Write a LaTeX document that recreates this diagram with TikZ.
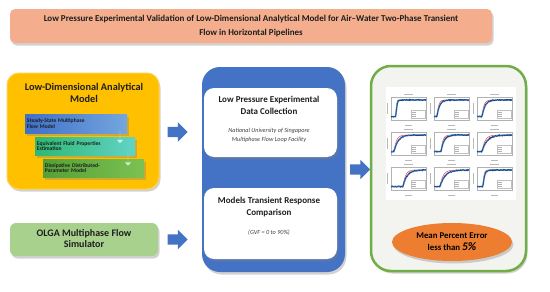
\documentclass[tikz,border=0pt]{standalone}
\usepackage{fontspec}
\setmainfont{Carlito}
\usetikzlibrary{shapes.geometric, shapes.arrows, positioning, shadows}

\definecolor{titlefill}{HTML}{F4AE8E}
\definecolor{goldfill}{HTML}{FFC000}
\definecolor{goldedge}{HTML}{FFD24D}
\definecolor{olgafill}{HTML}{A9D18E}
\definecolor{mainblue}{HTML}{4472C4}
\definecolor{maingreen}{HTML}{70AD47}
\definecolor{mainorange}{HTML}{ED7D31}
\definecolor{panelgray}{HTML}{F3F4F0}
\definecolor{textdark}{HTML}{1E1E1E}
\definecolor{plotblue}{HTML}{1F3F7A}
\definecolor{plotlight}{HTML}{5B9BD5}
\definecolor{stepblueA}{HTML}{3F70C8}
\definecolor{stepblueB}{HTML}{74A6DE}
\definecolor{steptealA}{HTML}{2EB872}
\definecolor{steptealB}{HTML}{62D3C6}
\definecolor{stepgreenA}{HTML}{55A035}
\definecolor{stepgreenB}{HTML}{7CC152}

\begin{document}
\begin{tikzpicture}[
    x=1pt, y=-1pt,
    softshadow/.style={drop shadow={opacity=0.35, shadow xshift=1.5pt, shadow yshift=-2.5pt}},
    panel/.style={rounded corners=14pt, softshadow, inner sep=0pt},
    titlebox/.style={rounded corners=5pt, fill=titlefill, softshadow, minimum width=482pt, minimum height=34pt, align=center, text=textdark, font=\fontsize{9}{13.5}\selectfont\bfseries},
    headtext/.style={align=center, text=textdark, inner sep=0pt, font=\fontsize{10.3}{12}\selectfont\bfseries},
    boxtitle/.style={align=center, text=textdark, inner sep=0pt, font=\fontsize{9}{12}\selectfont\bfseries},
    boxnote/.style={align=center, text=black!75, inner sep=0pt, font=\fontsize{6.2}{9}\selectfont\itshape},
    stepbox/.style={align=left, text=textdark, inner xsep=2pt, inner ysep=0pt, font=\fontsize{5.6}{5.8}\selectfont\bfseries, softshadow},
    blockarrow/.style={single arrow, fill=mainblue, draw=none, inner xsep=0pt, inner ysep=5pt, single arrow head extend=4.5pt, minimum height=20pt},
    downarrow/.style={single arrow, fill=white, fill opacity=0.7, draw=none, inner xsep=0pt, inner ysep=3.5pt, single arrow head extend=3pt, minimum height=12pt, shape border rotate=270},
    axesframe/.style={draw=gray!60, line width=0.3pt},
    plotlabel/.style={draw=gray!55, line width=0.6pt},
    legendbox/.style={draw=gray!50, fill=white, line width=0.3pt},
    legendline/.style={draw=gray!60, line width=0.4pt},
    bluecurve/.style={draw=plotlight, line width=1.6pt},
    navycurve/.style={draw=plotblue, line width=0.6pt},
    redcurve/.style={draw=red!75, line width=0.5pt}
]
    \useasboundingbox (0,0) rectangle (550,292);
    \fill[white] (0,0) rectangle (550,292);

    % Title
    \node[titlebox] (title) at (251,26) {Low Pressure Experimental Validation of Low-Dimensional Analytical Model for Air--Water Two-Phase Transient\\Flow in Horizontal Pipelines};

    % Analytical model
    \node[panel, rounded corners=12pt, fill=goldfill, draw=goldedge, line width=1pt, minimum width=152pt, minimum height=116pt] (model) at (83,131) {};
    \node[headtext] (modeltitle) at (84,93) {Low-Dimensional Analytical\\Model};
    \node[stepbox, left color=stepblueA, right color=stepblueB, text width=98pt, minimum height=19pt] (steady) at (76,123.5) {Steady-State Multiphase\\Flow Model};
    \node[stepbox, left color=steptealA, right color=steptealB, text width=96pt, minimum height=18pt] (equiv) at (85,146) {Equivalent Fluid Properties\\Estimation};
    \node[stepbox, left color=stepgreenA, right color=stepgreenB, text width=97pt, minimum height=18pt] (dissip) at (93.5,168) {Dissipative Distributed-\\Parameter Model};
    \node[downarrow] (down1) at (120,137) {};
    \node[downarrow] (down2) at (128,159.5) {};

    % OLGA simulator
    \node[panel, rounded corners=6pt, fill=olgafill, minimum width=148pt, minimum height=33pt] (olga) at (84,239.5) {};
    \node[headtext, font=\fontsize{10}{11.5}\selectfont\bfseries] (olgatext) at (84,238.5) {OLGA Multiphase Flow\\Simulator};

    % Blue arrows
    \node[blockarrow] (arrmodel) at (175,132) {};
    \node[blockarrow] (arrolga) at (175,239.5) {};
    \node[blockarrow] (arrresult) at (357.5,169.5) {};

    % Experiments and comparison
    \node[panel, rounded corners=18pt, fill=mainblue, minimum width=143pt, minimum height=205pt] (experiment) at (273.5,169.5) {};
    \node[panel, rounded corners=10pt, fill=white, minimum width=133pt, minimum height=69pt] (collect) at (270.5,122.5) {};
    \node[boxtitle] (collecttitle) at (269,105) {Low Pressure Experimental\\Data Collection};
    \node[boxnote] (collectnote) at (269,135.5) {National University of Singapore\\Multiphase Flow Loop Facility};
    \node[panel, rounded corners=10pt, fill=white, minimum width=133pt, minimum height=71pt] (compare) at (270.5,223.5) {};
    \node[boxtitle] (comparetitle) at (269,207) {Models Transient Response\\Comparison};
    \node[boxnote] (comparenote) at (269,233) {(GVF = 0 to 90\%)};

    % Results
    \node[panel, rounded corners=20pt, fill=panelgray, draw=maingreen, line width=2.5pt, minimum width=155pt, minimum height=205pt] (results) at (448.5,168.5) {};
    \node[fill=white, minimum width=130pt, minimum height=113pt, inner sep=0pt] (charts) at (451,143.5) {};
    \foreach \i/\j/\t/\k in {0/0/5/0.8, 1/0/3/2.5, 2/0/5/3, 0/1/3/4, 1/1/7/3, 2/1/5/5, 0/2/12/4, 1/2/6/5, 2/2/6/1.5}{
        \begin{scope}[shift={({391+43*\i},{97+35*\j})}]
            \draw[axesframe] (0,0) rectangle (35,23);
            \draw[plotlabel] (13,-3) -- (22,-3);
            \draw[plotlabel] (-4,6) -- (-4,17);
            \draw[plotlabel] (14,28) -- (21,28);
            \draw[redcurve] plot[domain=0:35, samples=40] (\x, {23-23*(0.15+0.72*(1-exp(-min(max(\x-\t,0)/(0.6*\k),10))))});
            \draw[bluecurve] plot[domain=0:35, samples=40] (\x, {23-23*(0.15+0.72*(1-exp(-min(max(\x-\t,0)/\k,10))))});
            \draw[navycurve] plot[domain=0:35, samples=60] (\x, {23-23*(0.15+0.72*(1-exp(-min(max(\x-\t,0)/\k,10))))+0.8*rand});
            \draw[legendbox] (20,13) rectangle (34,21);
            \foreach \l in {15,17,19} \draw[legendline] (21,\l) -- (25,\l);
        \end{scope}
    }
    \node[ellipse, fill=mainorange, minimum width=120pt, minimum height=38pt, inner sep=1pt, softshadow, align=center, text=black, font=\fontsize{8.8}{12}\selectfont\bfseries] (error) at (452,242) {Mean Percent Error\\less than {\fontsize{11.5}{12}\selectfont\itshape 5\%}};
\end{tikzpicture}
\end{document}
